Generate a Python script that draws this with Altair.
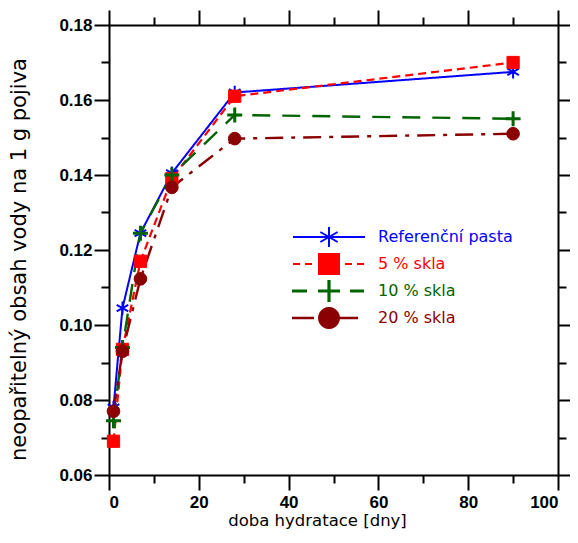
import math
import altair as alt
import pandas as pd

# ---------------- data ----------------
days = [1, 3, 7, 14, 28, 90]
series_names = ["Referenční pasta", "5 % skla", "10 % skla", "20 % skla"]
ref_pasta = [0.078, 0.1045, 0.1245, 0.1405, 0.162, 0.1675]
skla_5 = [0.069, 0.0935, 0.117, 0.139, 0.161, 0.170]
skla_10 = [0.0745, 0.094, 0.1245, 0.140, 0.156, 0.155]
skla_20 = [0.077, 0.093, 0.1123, 0.1367, 0.1497, 0.151]
x_ticks = [0, 10, 20, 30, 40, 50, 60, 70, 80, 90, 100]
y_ticks = [0.06, 0.07, 0.08, 0.09, 0.10, 0.11, 0.12, 0.13, 0.14, 0.15, 0.16, 0.17, 0.18]

# ---------------- styles ----------------
colors = ["#0000ff", "#ff0000", "#006400", "#8b0000"]
dashes = [[1, 0], [8, 5], [18, 12], [18, 8, 4, 8]]
line_widths = [2, 2.2, 2.4, 2.4]
ASTERISK = "M0,-1L0,1M-0.866,-0.5L0.866,0.5M-0.866,0.5L0.866,-0.5"
PLUS = "M-1,0L1,0M0,-1L0,1"
shapes = [ASTERISK, "square", PLUS, "circle"]
sizes = [180, 150, 225, 160]
point_strokes = [2, 1, 3, 1]

rows = []
for name, vals in zip(series_names, [ref_pasta, skla_5, skla_10, skla_20]):
    for d, v in zip(days, vals):
        rows.append({"day": d, "value": v, "series": name})
df = pd.DataFrame(rows)

# ---------------- legend symbols (line + marker) ----------------
SYM = 16            # legend symbol "size" side (px); path may extend beyond it
H = SYM / 2.0       # px per path unit


def seg(a, b):
    return f"M{a / H:.4f},0L{b / H:.4f},0"


def poly(pts):
    return "M" + "L".join(f"{x / H:.4f},{y / H:.4f}" for x, y in pts) + "Z"


def rect(x0, x1, y0, y1):
    return poly([(x0, y0), (x1, y0), (x1, y1), (x0, y1)])


def lines(pairs):
    return "".join(f"M{x0 / H:.4f},{y0 / H:.4f}L{x1 / H:.4f},{y1 / H:.4f}" for (x0, y0, x1, y1) in pairs)


r = 10
sym_ref = seg(-36, 36) + lines([(0, -r, 0, r), (-0.866 * r, -0.5 * r, 0.866 * r, 0.5 * r),
                                 (-0.866 * r, 0.5 * r, 0.866 * r, -0.5 * r)])
sym_5 = seg(-36, -29) + seg(-24, -17) + rect(-r, r, -r, r) + seg(16, 23) + seg(28, 35)
sym_10 = (rect(-36, -23, -0.6, 0.6) + rect(22, 34, -0.6, 0.6)
          + rect(-r, r, -0.6, 0.6) + rect(-0.6, 0.6, -r, r))
circ = [(r * math.cos(2 * math.pi * k / 24), r * math.sin(2 * math.pi * k / 24)) for k in range(24)]
sym_20 = rect(-36, -16, -0.3, 0.3) + rect(10, 28, -0.3, 0.3) + poly(circ)
legend_syms = [sym_ref, sym_5, sym_10, sym_20]

names_js = "[" + ",".join(f"'{n}'" for n in series_names) + "]"
syms_js = "[" + ",".join(f"'{s}'" for s in legend_syms) + "]"
shape_expr = f"{syms_js}[indexof({names_js}, datum.value)]"
color_expr = "scale('color', datum.value)"

# ---------------- axes ----------------
x_major = "datum.value % 20 == 0"
y_major = "round(datum.value * 100) % 2 == 0"
common_axis = dict(grid=False, domainColor="black", domainWidth=2, tickColor="black", tickWidth=2)

x_bottom = alt.Axis(
    orient="bottom", values=x_ticks, labelExpr=f"{x_major} ? datum.label : ''",
    tickSize={"condition": {"test": x_major, "value": 15}, "value": 8},
    labelFont="Liberation Sans", labelFontWeight="bold", labelFontSize=17, labelColor="black",
    labelPadding=4, title="doba hydratace [dny]", titleFont="DejaVu Sans", titleFontSize=16.5,
    titleFontWeight="normal", titleColor="black", titleX=208, titleY=37, titleBaseline="top",
    **common_axis)
y_left = alt.Axis(
    orient="left", values=y_ticks, labelExpr=f"{y_major} ? format(datum.value, '.2f') : ''",
    tickSize={"condition": {"test": y_major, "value": 15}, "value": 8},
    labelFont="Liberation Sans", labelFontWeight="bold", labelFontSize=17, labelColor="black",
    labelPadding=2, title="neopařitelný obsah vody na 1 g pojiva", titleFont="DejaVu Sans",
    titleFontSize=21, titleFontWeight="normal", titleColor="black", titleAngle=270,
    titleX=-84, titleY=234, titleBaseline="alphabetic", titleAlign="center",
    **common_axis)
x_top = alt.Axis(
    orient="top", values=x_ticks, labels=False, title=None,
    tickSize={"condition": {"test": x_major, "value": 15}, "value": 8}, **common_axis)
y_right = alt.Axis(
    orient="right", values=y_ticks, labels=False, title=None,
    tickSize={"condition": {"test": y_major, "value": 15}, "value": 8}, **common_axis)

x_scale = alt.Scale(domain=[0, 100], nice=False, zero=False)
y_scale = alt.Scale(domain=[0.06, 0.18], nice=False, zero=False)
color_scale = alt.Scale(domain=series_names, range=colors)

layers = []
for i, name in enumerate(series_names):
    first = i == 0
    layers.append(
        alt.Chart(df).transform_filter(alt.datum.series == name).mark_line(
            color=colors[i], strokeDash=dashes[i], strokeWidth=line_widths[i]
        ).encode(
            x=alt.X("day:Q", scale=x_scale, axis=x_bottom if first else None),
            y=alt.Y("value:Q", scale=y_scale, axis=y_left if first else None),
        )
    )
for i, name in enumerate(series_names):
    layers.append(
        alt.Chart(df).transform_filter(alt.datum.series == name).mark_point(
            shape=shapes[i], size=sizes[i], filled=True, color=colors[i], stroke=colors[i],
            strokeWidth=point_strokes[i], opacity=1
        ).encode(
            x=alt.X("day:Q", scale=x_scale, axis=None),
            y=alt.Y("value:Q", scale=y_scale, axis=None),
        )
    )

# invisible layer that carries the frame axes (top/right) and the legend
legend_layer = alt.Chart(df).mark_point(filled=True, opacity=0).encode(
    x=alt.X("day:Q", scale=x_scale, axis=x_top),
    y=alt.Y("value:Q", scale=y_scale, axis=y_right),
    color=alt.Color(
        "series:N", scale=color_scale, sort=series_names,
        legend=alt.Legend(
            orient="none", legendX=184, legendY=203, title=None, padding=0,
            symbolSize=SYM * SYM, symbolOffset=27, labelFont="DejaVu Sans", labelFontSize=16,
            labelOffset=40, rowPadding=-1,
            symbolType=alt.ExprRef(shape_expr),
            symbolFillColor=alt.ExprRef(color_expr),
            symbolStrokeColor=alt.ExprRef(color_expr),
            symbolStrokeWidth=2,
            symbolOpacity=1,
            labelColor=alt.ExprRef(color_expr),
        ),
    ),
)
layers.append(legend_layer)

chart = alt.layer(*layers).properties(
    width=449, height=450,
    autosize=alt.AutoSizeParams(type="none"),
    padding={"left": 101, "top": 17, "right": 12, "bottom": 60},
).configure_view(stroke=None).configure(background="white")

chart.save("out.html", embed_options={"renderer": "svg", "actions": False})
